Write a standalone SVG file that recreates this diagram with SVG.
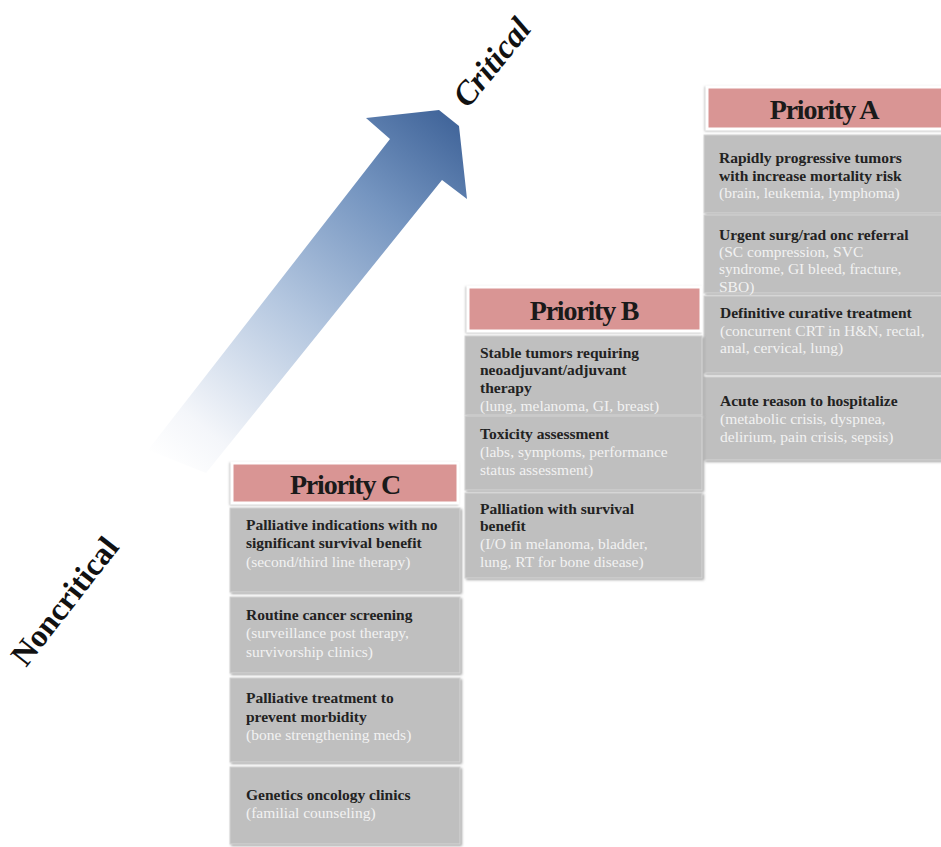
<svg xmlns="http://www.w3.org/2000/svg" width="941" height="847" viewBox="0 0 941 847">
<defs>
<linearGradient id="arrowGrad" gradientUnits="userSpaceOnUse" x1="170" y1="470" x2="455" y2="120">
<stop offset="0" stop-color="#ffffff"/>
<stop offset="0.12" stop-color="#f4f6fa"/>
<stop offset="0.45" stop-color="#b3c6df"/>
<stop offset="0.75" stop-color="#7595c0"/>
<stop offset="1" stop-color="#41659a"/>
</linearGradient>
<filter id="shadow" x="-5%" y="-5%" width="115%" height="120%">
<feDropShadow dx="1.5" dy="1.5" stdDeviation="1.2" flood-color="#7f7f7f" flood-opacity="0.7"/>
</filter>
<filter id="hshadow" x="-5%" y="-10%" width="115%" height="130%">
<feDropShadow dx="-1" dy="1" stdDeviation="1.2" flood-color="#9a9a9a" flood-opacity="0.6"/>
</filter>
</defs>
<style>
.hdr{fill:#d99594;stroke:#ffffff;stroke-width:3;filter:url(#hshadow)}
.htxt{font-family:"Liberation Serif","Times New Roman",serif;font-weight:bold;font-size:28px;letter-spacing:-1.2px;fill:#1a1a1a;text-anchor:middle}
.box{fill:#bfbfbf;stroke:#d4d4d4;stroke-width:1;filter:url(#shadow)}
.b{font-family:"Liberation Serif","Times New Roman",serif;font-weight:bold;font-size:15.5px;fill:#222222}
.l{font-family:"Liberation Serif","Times New Roman",serif;font-size:15.5px;fill:#f2f2f2}
.axis{font-family:"Liberation Serif","Times New Roman",serif;font-weight:bold;fill:#111111}
</style>
<rect width="941" height="847" fill="#ffffff"/>
<g id="connectors">
<polygon id="arrow" fill="url(#arrowGrad)" points="366,118 439,110 459,126 467,199 442,180 206,473 148,450 390,139"/>
</g>
<text class="axis" font-size="33" font-style="italic" transform="translate(468,109) rotate(-51)">Critical</text>
<text class="axis" font-size="32" transform="translate(26,668) rotate(-52)">Noncritical</text>

<g id="priorityA">
<rect class="hdr" x="707" y="87" width="236" height="42"/>
<text class="htxt" x="824" y="119">Priority A</text>
</g>
<g id="a1">
<rect class="box" x="704" y="135" width="240" height="78"/>
<text class="b" x="719" y="163">Rapidly progressive tumors</text>
<text class="b" x="719" y="181">with increase mortality risk</text>
<text class="l" x="719" y="198">(brain, leukemia, lymphoma)</text>
</g>
<g id="a2">
<rect class="box" x="704" y="215" width="240" height="78"/>
<text class="b" x="719" y="240">Urgent surg/rad onc referral</text>
<text class="l" x="719" y="257">(SC compression, SVC</text>
<text class="l" x="719" y="274">syndrome, GI bleed, fracture,</text>
<text class="l" x="719" y="292">SBO)</text>
</g>
<g id="a3">
<rect class="box" x="704" y="296" width="240" height="77"/>
<text class="b" x="720" y="318">Definitive curative treatment</text>
<text class="l" x="720" y="336">(concurrent CRT in H&amp;N, rectal,</text>
<text class="l" x="720" y="353">anal, cervical, lung)</text>
</g>
<g id="a4">
<rect class="box" x="704" y="377" width="240" height="83"/>
<text class="b" x="720" y="406">Acute reason to hospitalize</text>
<text class="l" x="720" y="424">(metabolic crisis, dyspnea,</text>
<text class="l" x="720" y="442">delirium, pain crisis, sepsis)</text>
</g>

<g id="priorityB">
<rect class="hdr" x="468" y="287" width="233" height="44"/>
<text class="htxt" x="584" y="320">Priority B</text>
</g>
<g id="b1">
<rect class="box" x="465" y="336" width="237" height="79"/>
<text class="b" x="480" y="358">Stable tumors requiring</text>
<text class="b" x="480" y="375">neoadjuvant/adjuvant</text>
<text class="b" x="480" y="393">therapy</text>
<text class="l" x="480" y="411">(lung, melanoma, GI, breast)</text>
</g>
<g id="b2">
<rect class="box" x="465" y="416" width="237" height="74"/>
<text class="b" x="480" y="439">Toxicity assessment</text>
<text class="l" x="480" y="457">(labs, symptoms, performance</text>
<text class="l" x="480" y="475">status assessment)</text>
</g>
<g id="b3">
<rect class="box" x="465" y="493" width="237" height="85"/>
<text class="b" x="480" y="514">Palliation with survival</text>
<text class="b" x="480" y="531">benefit</text>
<text class="l" x="480" y="549">(I/O in melanoma, bladder,</text>
<text class="l" x="480" y="567">lung, RT for bone disease)</text>
</g>

<g id="priorityC">
<rect class="hdr" x="232" y="463" width="226" height="40"/>
<text class="htxt" x="345" y="494">Priority C</text>
</g>
<g id="c1">
<rect class="box" x="230" y="508" width="230" height="84"/>
<text class="b" x="246" y="530">Palliative indications with no</text>
<text class="b" x="246" y="548">significant survival benefit</text>
<text class="l" x="246" y="567">(second/third line therapy)</text>
</g>
<g id="c2">
<rect class="box" x="230" y="597" width="230" height="76"/>
<text class="b" x="246" y="620">Routine cancer screening</text>
<text class="l" x="246" y="638">(surveillance post therapy,</text>
<text class="l" x="246" y="657">survivorship clinics)</text>
</g>
<g id="c3">
<rect class="box" x="230" y="678" width="230" height="84"/>
<text class="b" x="246" y="703">Palliative treatment to</text>
<text class="b" x="246" y="722">prevent morbidity</text>
<text class="l" x="246" y="740">(bone strengthening meds)</text>
</g>
<g id="c4">
<rect class="box" x="230" y="767" width="230" height="77"/>
<text class="b" x="246" y="800">Genetics oncology clinics</text>
<text class="l" x="246" y="818">(familial counseling)</text>
</g>
</svg>
